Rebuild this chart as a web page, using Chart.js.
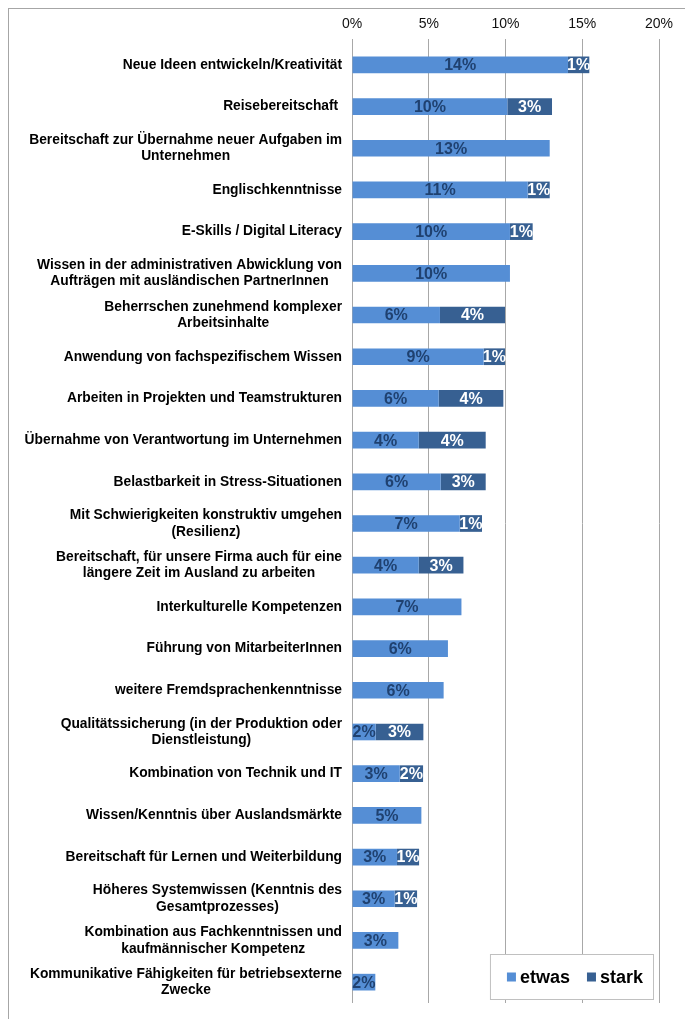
<!DOCTYPE html>
<html>
<head>
<meta charset="utf-8">
<script src="https://cdn.jsdelivr.net/npm/chart.js@4.4.1/dist/chart.umd.min.js"></script>
<style>
    body { margin: 0; background: #fff; }
    #frame {
        position: absolute; left: 8px; top: 8px;
        width: 677px; height: 1011px;
        border-top: 1px solid #a6a6a6; border-left: 1px solid #a6a6a6;
        box-sizing: border-box;
    }
    #wrap { position: relative; width: 676px; height: 1010px; }
</style>
</head>
<body>
<div id="frame"><div id="wrap"><canvas id="skillsChart"></canvas></div></div>
<script>
// Kategorien (mehrzeilige Beschriftungen als Arrays)
const categories = [
    "Neue Ideen entwickeln/Kreativität",
    "Reisebereitschaft ",
    ["Bereitschaft zur Übernahme neuer Aufgaben im", "Unternehmen"],
    "Englischkenntnisse",
    "E-Skills / Digital Literacy",
    ["Wissen in der administrativen Abwicklung von", "Aufträgen mit ausländischen PartnerInnen"],
    ["Beherrschen zunehmend komplexer", "Arbeitsinhalte"],
    "Anwendung von fachspezifischem Wissen",
    "Arbeiten in Projekten und Teamstrukturen",
    "Übernahme von Verantwortung im Unternehmen",
    "Belastbarkeit in Stress-Situationen",
    ["Mit Schwierigkeiten konstruktiv umgehen", "(Resilienz)"],
    ["Bereitschaft, für unsere Firma auch für eine", "längere Zeit im Ausland zu arbeiten"],
    "Interkulturelle Kompetenzen",
    "Führung von MitarbeiterInnen",
    "weitere Fremdsprachenkenntnisse",
    ["Qualitätssicherung (in der Produktion oder", "Dienstleistung)"],
    "Kombination von Technik und IT",
    "Wissen/Kenntnis über Auslandsmärkte",
    "Bereitschaft für Lernen und Weiterbildung",
    ["Höheres Systemwissen (Kenntnis des", "Gesamtprozesses)"],
    ["Kombination aus Fachkenntnissen und", "kaufmännischer Kompetenz"],
    ["Kommunikative Fähigkeiten für betriebsexterne", "Zwecke"]
];

const etwas = [14.07, 10.12, 12.88, 11.45, 10.29, 10.29, 5.73, 8.58, 5.65, 4.35, 5.78, 7.02,
               4.35, 7.13, 6.25, 5.97, 1.54, 3.11, 4.52, 2.93, 2.78, 3.02, 1.52];
const stark = [1.39, 2.91, 0, 1.43, 1.48, 0, 4.24, 1.39, 4.21, 4.36, 2.93, 1.45,
               2.91, 0, 0, 0, 3.11, 1.52, 0, 1.44, 1.46, 0, 0];

const xTicks = [0, 5, 10, 15, 20];

const FONT = "'Liberation Sans', Arial, sans-serif";

// Werte in den Balken
const barLabels = {
    id: 'barLabels',
    afterDatasetsDraw(chart) {
        const ctx = chart.ctx;
        ctx.save();
        ctx.font = "bold 16px " + FONT;
        ctx.textAlign = 'center';
        ctx.textBaseline = 'middle';
        chart.data.datasets.forEach((ds, di) => {
            const meta = chart.getDatasetMeta(di);
            meta.data.forEach((bar, i) => {
                const v = ds.data[i];
                if (!v) return;
                ctx.fillStyle = di === 0 ? '#1F4170' : '#ffffff';
                ctx.fillText(Math.round(v) + '%', (bar.x + bar.base) / 2, bar.y + 1);
            });
        });
        ctx.restore();
    }
};

// Kategorie-Beschriftungen: Block rechtsbündig, Zeilen zentriert
const catLabels = {
    id: 'catLabels',
    afterDraw(chart) {
        const ctx = chart.ctx;
        const y = chart.scales.y;
        const right = chart.chartArea.left - 10;
        ctx.save();
        ctx.font = "bold 13.8px " + FONT;
        ctx.fillStyle = '#000';
        ctx.textAlign = 'center';
        ctx.textBaseline = 'middle';
        categories.forEach((lab, i) => {
            const lines = Array.isArray(lab) ? lab : [lab];
            const w = Math.max(...lines.map(l => ctx.measureText(l).width));
            const cx = right - w / 2;
            const cy = y.getPixelForValue(i);
            lines.forEach((l, k) => {
                ctx.fillText(l, cx, cy + (k - (lines.length - 1) / 2) * 16.5);
            });
        });
        ctx.restore();
    }
};

// Legende unten rechts im Diagramm
const boxLegend = {
    id: 'boxLegend',
    afterDraw(chart) {
        const ctx = chart.ctx;
        const area = chart.chartArea;
        ctx.save();
        ctx.font = "bold 18px " + FONT;
        const names = chart.data.datasets.map(d => d.label);
        const widths = names.map(n => ctx.measureText(n).width);
        const w = 17 + 13 + widths[0] + 17 + 13 + widths[1] + 11;
        const h = 46;
        const right = area.right - 5;
        const bottom = area.bottom - 3;
        const left = right - w, top = bottom - h;
        ctx.fillStyle = '#fff';
        ctx.fillRect(left, top, w, h);
        ctx.strokeStyle = '#c0c0c0';
        ctx.lineWidth = 1;
        ctx.strokeRect(left + 0.5, top + 0.5, w - 1, h - 1);
        let x = left + 17;
        const cy = top + h / 2;
        ctx.textBaseline = 'middle';
        ctx.textAlign = 'left';
        chart.data.datasets.forEach((ds, i) => {
            ctx.fillStyle = ds.backgroundColor;
            ctx.fillRect(x, cy - 4.5, 9, 9);
            ctx.fillStyle = '#000';
            ctx.fillText(names[i], x + 13, cy + 1);
            x += 13 + widths[i] + 17;
        });
        ctx.restore();
    }
};

new Chart(document.getElementById('skillsChart'), {
    type: 'bar',
    data: {
        labels: categories,
        datasets: [
            { label: 'etwas', data: etwas, backgroundColor: '#558ED5', barPercentage: 0.4, categoryPercentage: 1 },
            { label: 'stark', data: stark, backgroundColor: '#376092', barPercentage: 0.4, categoryPercentage: 1 }
        ]
    },
    options: {
        indexAxis: 'y',
        responsive: true,
        maintainAspectRatio: false,
        animation: false,
        layout: { padding: { top: 0, right: 26, bottom: 16, left: 0 } },
        plugins: {
            legend: { display: false },
            tooltip: { enabled: false }
        },
        scales: {
            x: {
                position: 'top',
                stacked: true,
                min: 0,
                max: 20,
                afterBuildTicks: s => { s.ticks = xTicks.map(v => ({ value: v })); },
                afterFit: s => { s.height = 35; },
                ticks: {
                    callback: v => v + '%',
                    color: '#111',
                    font: { family: FONT, size: 14 },
                    padding: 6,
                    maxRotation: 0
                },
                grid: { color: '#a8a8a8', lineWidth: 1, tickLength: 5 },
                border: { display: false }
            },
            y: {
                stacked: true,
                afterFit: s => { s.width = 343; },
                ticks: { display: false },
                grid: { display: false },
                border: { display: false }
            }
        }
    },
    plugins: [barLabels, catLabels, boxLegend]
});
</script>
</body>
</html>
